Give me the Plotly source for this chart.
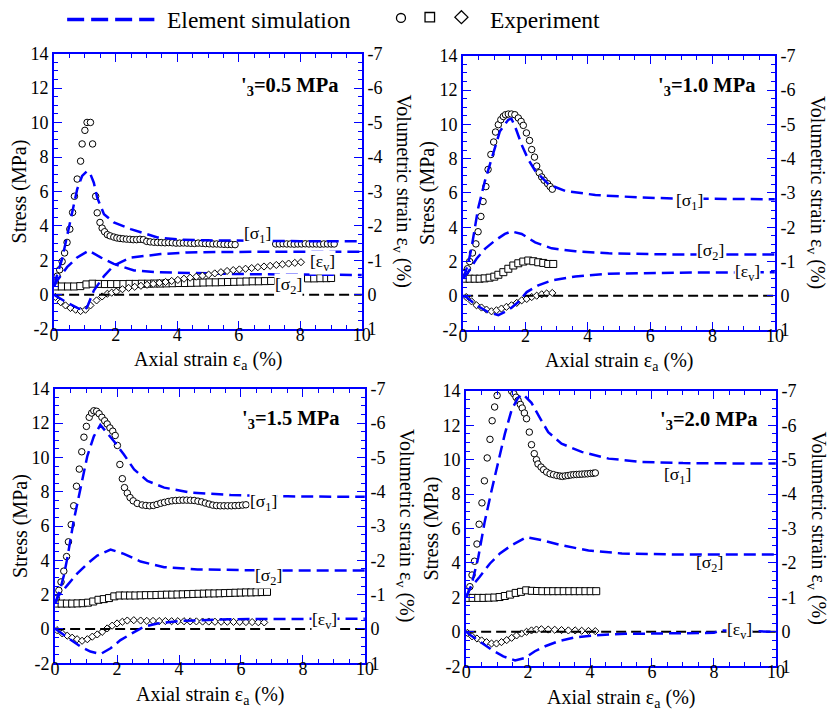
import plotly.graph_objects as go

# ---------------- data ----------------
# Axial strain (%), stress (MPa), volumetric strain (%) for four confining pressures.
panel_titles = ["0.5", "1.0", "1.5", "2.0"]

# sigma'3 = 0.5 MPa : experiment
ea_s1_05 = [0.04, 0.10, 0.18, 0.26, 0.34, 0.42, 0.51, 0.60, 0.66, 0.75, 0.86, 0.91, 1.00, 1.07, 1.18, 1.25, 1.35, 1.40,
            1.49, 1.56, 1.64, 1.73, 1.82, 1.94, 2.04, 2.14, 2.24, 2.35, 2.46, 2.57, 2.68, 2.79, 2.90, 3.01, 3.12, 3.24,
            3.36, 3.48, 3.60, 3.72, 3.84, 3.96, 4.08, 4.20, 4.32, 4.44, 4.56, 4.68, 4.80, 4.92, 5.04, 5.16, 5.28, 5.40,
            5.52, 5.64, 5.76, 5.88,
            7.20, 7.32, 7.44, 7.56, 7.68, 7.80, 7.92, 8.04, 8.16, 8.28, 8.40, 8.52, 8.64, 8.76, 8.88, 9.00, 9.10]
s1_05 = [0.73, 1.08, 1.45, 1.93, 2.43, 3.04, 3.81, 4.78, 5.72, 6.72, 7.76, 8.76, 9.55, 10.01, 10.01, 8.76, 5.72, 4.76,
         4.20, 3.87, 3.66, 3.49, 3.42, 3.35, 3.30, 3.27, 3.25, 3.23, 3.22, 3.20, 3.20, 3.22, 3.20, 3.10, 3.07, 3.05,
         3.04, 3.03, 3.02, 3.03, 3.02, 3.00, 3.00, 3.01, 3.00, 2.99, 2.98, 3.00, 2.99, 2.97, 2.96, 2.95, 2.95, 2.94,
         2.93, 2.92, 2.92, 2.91,
         2.95, 2.95, 2.96, 2.95, 2.95, 2.94, 2.95, 2.95, 2.96, 2.95, 2.95, 2.95, 2.94, 2.95, 2.95, 2.95, 2.95]
ea_s2_05 = [0.05, 0.25, 0.45, 0.65, 0.85, 1.05, 1.25, 1.45, 1.65, 1.85, 2.05, 2.25, 2.45, 2.65, 2.85, 3.05, 3.25, 3.45,
            3.65, 3.85, 4.05, 4.25, 4.45, 4.65, 4.85, 5.05, 5.25, 5.45, 5.65, 5.85, 6.05, 6.25, 6.45, 6.65, 6.85, 7.05,
            8.25, 8.45, 8.65, 8.85, 9.00]
s2_05 = [0.48, 0.48, 0.48, 0.48, 0.50, 0.60, 0.64, 0.63, 0.62, 0.62, 0.62, 0.62, 0.63, 0.63, 0.64, 0.64, 0.65, 0.65,
         0.66, 0.67, 0.68, 0.68, 0.69, 0.70, 0.71, 0.72, 0.72, 0.73, 0.74, 0.75, 0.76, 0.77, 0.78, 0.78, 0.79, 0.80,
         0.95, 0.95, 0.96, 0.96, 0.97]
ea_ev_05 = [0.04, 0.21, 0.37, 0.53, 0.70, 0.86, 1.02, 1.18, 1.38, 1.56, 1.73, 1.87,
            2.02, 2.22, 2.42, 2.62, 2.82, 3.02, 3.22, 3.42, 3.62, 3.82, 4.02, 4.22, 4.42, 4.62, 4.82, 5.02, 5.22, 5.42,
            5.62, 5.82, 6.02, 6.22, 6.42, 6.62, 6.82, 7.02, 7.22, 7.42, 7.62, 7.82, 8.02]
ev_05 = [0.065, 0.215, 0.31, 0.385, 0.435, 0.475, 0.435, 0.31, 0.165, 0.05, -0.03, -0.06,
         -0.09, -0.16, -0.20, -0.23, -0.26, -0.29, -0.315, -0.345, -0.37, -0.40, -0.43, -0.465, -0.495, -0.525, -0.555,
         -0.585, -0.62, -0.655, -0.69, -0.715, -0.735, -0.755, -0.775, -0.80, -0.82, -0.84, -0.865, -0.885, -0.905,
         -0.925, -0.945]
# sigma'3 = 0.5 MPa : element simulation
sim_ea_s1_05 = [0, 0.04, 0.26, 0.48, 0.59, 0.75, 0.91, 1.07, 1.18, 1.29, 1.40, 1.62, 1.94, 2.49, 3.36, 4.11, 5.0, 6.0, 8.0, 10.0]
sim_s1_05 = [0.5, 0.83, 2.08, 3.91, 4.87, 6.13, 6.9, 7.18, 7.0, 6.51, 5.64, 4.68, 4.2, 3.81, 3.33, 3.2, 3.16, 3.13, 3.11, 3.1]
sim_ea_s2_05 = [0, 0.1, 0.42, 0.75, 1.13, 1.51, 1.94, 2.6, 3.36, 4.5, 6.0, 8.0, 10.0]
sim_s2_05 = [0.5, 0.83, 1.6, 2.17, 2.56, 2.17, 1.79, 1.41, 1.31, 1.25, 1.2, 1.17, 1.15]
sim_ea_ev_05 = [0, 0.4, 0.8, 1.0, 1.1, 1.29, 1.62, 1.94, 2.49, 3.46, 4.33, 6.0, 10.0]
sim_ev_05 = [0, 0.22, 0.4, 0.45, 0.3, -0.12, -0.54, -0.85, -1.08, -1.18, -1.23, -1.245, -1.25]

# sigma'3 = 1.0 MPa : experiment
ea_s1_10 = [0.03, 0.08, 0.14, 0.21, 0.30, 0.41, 0.48, 0.57, 0.64, 0.73, 0.80, 0.89, 0.98, 1.04, 1.13, 1.21, 1.29, 1.36,
            1.45, 1.55, 1.66, 1.77, 1.86, 1.93, 2.03, 2.13, 2.20, 2.29, 2.36, 2.44, 2.52, 2.60, 2.71, 2.79, 2.86]
s1_10 = [1.25, 1.4, 1.58, 2.0, 2.5, 3.03, 3.74, 4.63, 5.5, 6.37, 7.37, 8.24, 8.97, 9.55, 9.98, 10.27, 10.46, 10.56,
         10.6, 10.6, 10.56, 10.37, 10.17, 9.94, 9.5, 9.06, 8.53, 8.09, 7.57, 7.18, 6.93, 6.74, 6.54, 6.37, 6.22]
ea_s2_10 = [0.05, 0.21, 0.37, 0.53, 0.69, 0.85, 1.00, 1.13, 1.29, 1.45, 1.61, 1.77, 1.93, 2.09, 2.25, 2.41, 2.57, 2.73, 2.89]
s2_10 = [1.0, 1.0, 1.0, 1.0, 1.02, 1.06, 1.12, 1.23, 1.38, 1.58, 1.77, 1.9, 2.0, 2.06, 2.02, 1.96, 1.92, 1.86, 1.86]
ea_ev_10 = [0.1, 0.27, 0.43, 0.59, 0.75, 0.91, 1.07, 1.23, 1.39, 1.55, 1.72, 1.88, 2.04, 2.2, 2.36, 2.52, 2.68, 2.86]
ev_10 = [0.035, 0.16, 0.275, 0.34, 0.4, 0.45, 0.42, 0.37, 0.32, 0.275, 0.205, 0.13, 0.09, 0.035, -0.005, -0.045, -0.07, -0.085]
# sigma'3 = 1.0 MPa : element simulation
sim_ea_s1_10 = [0, 0.15, 0.27, 0.38, 0.48, 0.7, 0.97, 1.18, 1.45, 1.55, 1.68, 1.88, 2.09, 2.31, 2.74, 3.27, 4.24, 5.74, 7.0, 10.0]
sim_s1_10 = [1.0, 1.8, 2.8, 3.9, 5.1, 6.7, 8.4, 9.6, 10.27, 10.33, 9.8, 8.8, 7.95, 7.3, 6.5, 6.12, 5.88, 5.73, 5.67, 5.63]
sim_ea_s2_10 = [0, 0.16, 0.43, 0.7, 1.02, 1.34, 1.55, 1.88, 2.31, 2.84, 3.6, 4.67, 6.81, 10.0]
sim_s2_10 = [1.0, 1.38, 2.16, 2.74, 3.22, 3.61, 3.76, 3.61, 3.12, 2.77, 2.6, 2.48, 2.41, 2.41]
sim_ea_ev_10 = [0, 0.1, 0.43, 0.8, 1.13, 1.45, 1.77, 2.04, 2.41, 2.84, 3.6, 4.67, 6.81, 10.0]
sim_ev_10 = [0, 0.035, 0.275, 0.47, 0.565, 0.42, 0.18, -0.11, -0.305, -0.45, -0.565, -0.645, -0.675, -0.69]

# sigma'3 = 1.5 MPa : experiment
ea_s1_15 = [0.04, 0.12, 0.19, 0.28, 0.37, 0.43, 0.52, 0.60, 0.69, 0.78, 0.86, 0.93, 1.01, 1.10, 1.18, 1.25, 1.34, 1.42,
            1.51, 1.60, 1.68, 1.77, 1.86, 1.94, 2.01, 2.09, 2.17, 2.24, 2.33, 2.42, 2.52, 2.65, 2.81, 2.93, 3.05, 3.17,
            3.29, 3.41, 3.53, 3.65, 3.77, 3.89, 4.01, 4.13, 4.25, 4.37, 4.49, 4.61, 4.73, 4.85, 4.97, 5.09, 5.21, 5.33,
            5.45, 5.57, 5.69, 5.81, 5.93, 6.05, 6.16]
s1_15 = [1.77, 2.25, 2.74, 3.37, 4.22, 5.08, 6.08, 7.18, 8.32, 9.32, 10.33, 11.18, 11.81, 12.34, 12.59, 12.72, 12.69, 12.55,
         12.34, 12.14, 11.95, 11.72, 11.53, 11.28, 10.7, 9.59, 8.76, 8.24, 7.92, 7.66, 7.47, 7.32, 7.23, 7.2, 7.18, 7.2,
         7.26, 7.33, 7.38, 7.43, 7.47, 7.49, 7.5, 7.51, 7.51, 7.5, 7.49, 7.45, 7.41, 7.34, 7.28, 7.22, 7.19, 7.18,
         7.18, 7.18, 7.18, 7.19, 7.2, 7.22, 7.24]
ea_s2_15 = [0.04, 0.21, 0.38, 0.55, 0.72, 0.89, 1.06, 1.23, 1.40, 1.57, 1.74, 1.91, 2.08, 2.25, 2.42, 2.59, 2.76, 2.93,
            3.10, 3.27, 3.44, 3.61, 3.78, 3.95, 4.12, 4.29, 4.46, 4.63, 4.80, 4.97, 5.14, 5.31, 5.48, 5.65, 5.82, 5.99,
            6.16, 6.33, 6.50, 6.67, 6.84]
s2_15 = [1.48, 1.48, 1.48, 1.48, 1.49, 1.5, 1.53, 1.6, 1.7, 1.74, 1.8, 1.9, 1.95, 1.95, 1.95, 1.95, 1.96, 1.97,
         1.97, 1.98, 1.99, 2.0, 2.0, 2.01, 2.02, 2.03, 2.04, 2.05, 2.06, 2.07, 2.07, 2.08, 2.09, 2.1, 2.11, 2.12,
         2.13, 2.13, 2.14, 2.15, 2.16]
ea_ev_15 = [0.06, 0.23, 0.39, 0.55, 0.71, 0.87, 1.04, 1.2, 1.36, 1.52, 1.68, 1.84, 2.0, 2.17, 2.33, 2.54, 2.76, 2.96,
            3.16, 3.36, 3.56, 3.76, 3.96, 4.16, 4.36, 4.56, 4.76, 4.96, 5.16, 5.36, 5.56, 5.76, 5.96, 6.16, 6.36, 6.56, 6.75]
ev_15 = [0.035, 0.13, 0.195, 0.255, 0.3, 0.345, 0.3, 0.225, 0.16, 0.085, -0.015, -0.095, -0.16, -0.21, -0.245, -0.255,
         -0.245, -0.235, -0.235, -0.23, -0.23, -0.225, -0.225, -0.225, -0.22, -0.22, -0.215, -0.215, -0.21, -0.21,
         -0.21, -0.205, -0.205, -0.2, -0.2, -0.195, -0.19]
# sigma'3 = 1.5 MPa : element simulation
sim_ea_s1_15 = [0, 0.17, 0.28, 0.39, 0.6, 0.82, 1.04, 1.25, 1.46, 1.9, 2.22, 2.55, 2.98, 3.52, 4.38, 5.67, 7.5, 10.0]
sim_s1_15 = [1.5, 2.35, 3.1, 4.1, 6.31, 8.24, 10.08, 11.23, 11.9, 10.94, 10.17, 9.3, 8.63, 8.24, 7.95, 7.81, 7.73, 7.7]
sim_ea_s2_15 = [0, 0.12, 0.39, 0.71, 1.04, 1.36, 1.79, 2.22, 2.76, 3.52, 4.6, 6.75, 10.0]
sim_s2_15 = [1.5, 1.96, 2.54, 3.22, 3.8, 4.28, 4.63, 4.38, 3.93, 3.6, 3.47, 3.41, 3.41]
sim_ea_ev_15 = [0, 0.12, 0.44, 0.82, 1.14, 1.47, 1.79, 2.11, 2.44, 2.87, 3.3, 4.06, 5.67, 10.0]
sim_ev_15 = [0, 0.065, 0.275, 0.515, 0.66, 0.73, 0.565, 0.325, 0.15, -0.065, -0.16, -0.235, -0.285, -0.3]

# sigma'3 = 2.0 MPa : experiment
ea_s1_20 = [0.12, 0.19, 0.27, 0.35, 0.42, 0.51, 0.59, 0.68, 0.77, 0.84, 0.92, 1.00, 1.47, 1.54, 1.61, 1.68, 1.75, 1.81,
            1.88, 1.95, 2.04, 2.11, 2.20, 2.27, 2.32, 2.42, 2.50, 2.60, 2.71, 2.82, 2.93, 3.03, 3.11, 3.20, 3.29, 3.38,
            3.47, 3.56, 3.65, 3.74, 3.83, 3.92, 4.01, 4.10, 4.17]
s1_20 = [2.62, 3.3, 4.1, 5.1, 6.25, 7.49, 8.77, 10.1, 11.18, 12.26, 13.06, 13.73, 13.98, 13.83, 13.63, 13.44, 13.21, 13.0,
         12.71, 12.38, 11.6, 10.87, 10.35, 10.0, 9.75, 9.57, 9.42, 9.28, 9.18, 9.13, 9.08, 9.05, 9.03, 9.06, 9.08, 9.11,
         9.13, 9.14, 9.15, 9.16, 9.17, 9.18, 9.2, 9.21, 9.23]
ea_s2_20 = [0.04, 0.21, 0.39, 0.56, 0.73, 0.91, 1.08, 1.25, 1.42, 1.60, 1.77, 1.94, 2.12, 2.29, 2.46, 2.64, 2.81, 2.98,
            3.15, 3.33, 3.50, 3.67, 3.85, 4.02, 4.20]
s2_20 = [1.97, 1.97, 1.97, 1.97, 1.98, 1.99, 2.02, 2.08, 2.16, 2.26, 2.32, 2.41, 2.38, 2.37, 2.36, 2.36, 2.36, 2.36,
         2.36, 2.36, 2.36, 2.36, 2.36, 2.36, 2.36]
ea_ev_20 = [0.04, 0.19, 0.35, 0.5, 0.66, 0.82, 0.98, 1.14, 1.31, 1.47, 1.63, 1.79, 1.95, 2.11, 2.27, 2.43, 2.65, 2.86,
            3.08, 3.3, 3.52, 3.73, 3.95, 4.17]
ev_20 = [0.03, 0.13, 0.195, 0.25, 0.3, 0.34, 0.34, 0.3, 0.24, 0.175, 0.105, 0.05, 0.0, -0.04, -0.065, -0.075, -0.065,
         -0.06, -0.05, -0.04, -0.04, -0.03, -0.025, -0.02]
# sigma'3 = 2.0 MPa : element simulation
sim_ea_s1_20 = [0, 0.17, 0.39, 0.6, 0.82, 1.04, 1.25, 1.47, 1.68, 1.84, 2.11, 2.39, 2.65, 3.08, 3.73, 4.6, 5.67, 7.0, 10.0]
sim_s1_20 = [2.0, 2.7, 4.3, 6.4, 8.2, 9.9, 11.5, 12.9, 13.6, 13.8, 13.3, 12.4, 11.6, 10.93, 10.45, 10.06, 9.87, 9.8, 9.77]
sim_ea_s2_20 = [0, 0.12, 0.44, 0.77, 1.09, 1.47, 1.95, 2.44, 3.08, 3.95, 5.03, 6.75, 10.0]
sim_s2_20 = [2.0, 2.52, 3.2, 3.97, 4.55, 5.03, 5.5, 5.32, 5.03, 4.72, 4.55, 4.49, 4.49]
sim_ea_ev_20 = [0, 0.12, 0.44, 0.82, 1.2, 1.58, 1.9, 2.22, 2.55, 2.98, 3.52, 4.17, 5.14, 6.75, 8.0, 8.2, 10.0]
sim_ev_20 = [0, 0.085, 0.28, 0.52, 0.715, 0.83, 0.76, 0.565, 0.42, 0.275, 0.16, 0.1, 0.06, 0.05, 0.03, -0.04, 0.0]

# axis ticks
x_ticks = [0, 2, 4, 6, 8, 10]
x_tick_text = ["0", "2", "4", "6", "8", "10"]
stress_ticks = [-2, 0, 2, 4, 6, 8, 10, 12, 14]
stress_tick_text = ["-2", "0", "2", "4", "6", "8", "10", "12", "14"]
ev_ticks = [1, 0, -1, -2, -3, -4, -5, -6, -7]
ev_tick_text = ["1", "0", "-1", "-2", "-3", "-4", "-5", "-6", "-7"]

# ---------------- figure ----------------
W, H = 830, 716
FONT = "Liberation Serif, Times New Roman, serif"
BLUE = "#0000ff"

# the page keeps its default 8px body margin, so the figure fills (W-16) x (H-16)
PAGE_PAD = 8
CW, CH = W - 2 * PAGE_PAD, H - 2 * PAGE_PAD


def fx(px):
    # window pixel -> paper fraction
    return (px - PAGE_PAD) / CW


def fy(py):
    return 1 - (py - PAGE_PAD) / CH


panels = [
    dict(box=(57, 52, 364, 329),
         exp=[(ea_s1_05, s1_05), (ea_s2_05, s2_05), (ea_ev_05, ev_05)],
         sim=[(sim_ea_s1_05, sim_s1_05), (sim_ea_s2_05, sim_s2_05), (sim_ea_ev_05, sim_ev_05)],
         title_pos=(9.28, 12.1),
         labels=[("[σ<sub>1</sub>]", 6.61, 3.49, True), ("[ε<sub>v</sub>]", 8.71, 1.9, True),
                 ("[σ<sub>2</sub>]", 7.62, 0.54, True)]),
    dict(box=(465, 54, 776, 330),
         exp=[(ea_s1_10, s1_10), (ea_s2_10, s2_10), (ea_ev_10, ev_10)],
         sim=[(sim_ea_s1_10, sim_s1_10), (sim_ea_s2_10, sim_s2_10), (sim_ea_ev_10, sim_ev_10)],
         title_pos=(9.43, 12.2),
         labels=[("[σ<sub>1</sub>]", 7.27, 5.51, True), ("[σ<sub>2</sub>]", 7.92, 2.58, True),
                 ("[ε<sub>v</sub>]", 9.11, 1.38, True)]),
    dict(box=(58, 389, 367, 665),
         exp=[(ea_s1_15, s1_15), (ea_s2_15, s2_15), (ea_ev_15, ev_15)],
         sim=[(sim_ea_s1_15, sim_s1_15), (sim_ea_s2_15, sim_s2_15), (sim_ea_ev_15, sim_ev_15)],
         title_pos=(9.22, 12.2),
         labels=[("[σ<sub>1</sub>]", 6.73, 7.39, True), ("[σ<sub>2</sub>]", 6.89, 3.04, True),
                 ("[ε<sub>v</sub>]", 8.71, 0.49, True)]),
    dict(box=(468, 391, 777, 668),
         exp=[(ea_s1_20, s1_20), (ea_s2_20, s2_20), (ea_ev_20, ev_20)],
         sim=[(sim_ea_s1_20, sim_s1_20), (sim_ea_s2_20, sim_s2_20), (sim_ea_ev_20, sim_ev_20)],
         title_pos=(9.45, 12.3),
         labels=[("[σ<sub>1</sub>]", 6.83, 9.1, False), ("[σ<sub>2</sub>]", 7.86, 3.95, False),
                 ("[ε<sub>v</sub>]", 8.83, 0.05, True)]),
]

fig = go.Figure()
layout = dict(width=W, height=H, margin=dict(l=0, r=0, t=0, b=0),
              paper_bgcolor="white", plot_bgcolor="white", showlegend=False,
              font=dict(family=FONT, color="black"))
annotations = []
shapes = []

marker_styles = [
    dict(symbol="circle", size=6.5, color="white", line=dict(color="black", width=1)),
    dict(symbol="square", size=7, color="white", line=dict(color="black", width=1)),
    dict(symbol="diamond", size=5.5, color="white", line=dict(color="black", width=1)),
]
tick_font = dict(family=FONT, size=18, color="black")

for i, pn in enumerate(panels):
    k = i + 1
    xa = "x" if k == 1 else f"x{k}"
    ya = "y" if k == 1 else f"y{k}"
    yr = f"y{k + 4}"
    x0, y0, x1, y1 = pn["box"]

    # experiment markers: sigma1, sigma2 on stress axis, eps_v on volumetric-strain axis
    for j, (ex, ey) in enumerate(pn["exp"]):
        fig.add_trace(go.Scatter(x=ex, y=ey, mode="markers", marker=marker_styles[j],
                                 xaxis=xa, yaxis=(yr if j == 2 else ya), hoverinfo="skip"))
    # zero volumetric-strain reference
    fig.add_trace(go.Scatter(x=[0, 10], y=[0, 0], mode="lines",
                             line=dict(color="black", width=2, dash="10px,5px"),
                             xaxis=xa, yaxis=yr, hoverinfo="skip"))
    # simulation curves
    for j, (sx, sy) in enumerate(pn["sim"]):
        fig.add_trace(go.Scatter(x=sx, y=sy, mode="lines",
                                 line=dict(color=BLUE, width=2.5, dash="12px,6px"),
                                 xaxis=xa, yaxis=(yr if j == 2 else ya), hoverinfo="skip"))

    common = dict(showline=True, linecolor=BLUE, linewidth=2, showgrid=False, zeroline=False,
                  ticks="inside", tickcolor=BLUE, tickwidth=1.3, ticklen=8, tickfont=tick_font)
    layout["xaxis" if k == 1 else f"xaxis{k}"] = dict(
        domain=[fx(x0), fx(x1)], range=[0, 10], anchor=ya, mirror="ticks",
        tickmode="array", tickvals=x_ticks, ticktext=x_tick_text, ticklabelstandoff=-12,
        minor=dict(ticks="inside", ticklen=4, tickwidth=1.2, tickcolor=BLUE, tickmode="linear",
                   tick0=0, dtick=0.5, showgrid=False),
        **common)
    layout["yaxis" if k == 1 else f"yaxis{k}"] = dict(
        domain=[fy(y1), fy(y0)], range=[-2, 14], anchor=xa,
        tickmode="array", tickvals=stress_ticks, ticktext=stress_tick_text,
        minor=dict(ticks="inside", ticklen=4, tickwidth=1.2, tickcolor=BLUE, tickmode="linear",
                   tick0=0, dtick=0.5, showgrid=False),
        **common)
    layout[f"yaxis{k + 4}"] = dict(
        overlaying=ya, anchor=xa, side="right", range=[1, -7],
        tickmode="array", tickvals=ev_ticks, ticktext=ev_tick_text,
        minor=dict(ticks="inside", ticklen=4, tickwidth=1.2, tickcolor=BLUE, tickmode="linear",
                   tick0=0, dtick=0.25, showgrid=False),
        **common)

    # panel heading
    tx, ty = pn["title_pos"]
    annotations.append(dict(text=f"<b>'<sub>3</sub>={panel_titles[i]} MPa</b>", x=tx, y=ty, xref=xa, yref=ya,
                            xanchor="right", yanchor="middle", showarrow=False,
                            font=dict(family=FONT, size=20.5, color="black")))
    # curve labels
    for text, lx, ly, bg in pn["labels"]:
        ann = dict(text=text, x=lx, y=ly, xref=xa, yref=ya, xanchor="center", yanchor="middle",
                   showarrow=False, font=dict(family=FONT, size=17.5, color="black"), borderpad=0)
        if bg:
            ann["bgcolor"] = "white"
        annotations.append(ann)

    # axis titles
    cx = (x0 + x1) / 2
    cy = (y0 + y1) / 2
    annotations.append(dict(text="Axial strain ε<sub>a</sub> (%)", x=fx(cx), y=fy(y1 + 32),
                            xref="paper", yref="paper", xanchor="center", yanchor="middle",
                            showarrow=False, font=dict(family=FONT, size=20, color="black")))
    annotations.append(dict(text="Stress (MPa)", x=fx(x0 - 35), y=fy(cy), xref="paper", yref="paper",
                            xanchor="center", yanchor="middle", textangle=-90, showarrow=False,
                            font=dict(family=FONT, size=20, color="black")))
    annotations.append(dict(text="Volumetric strain ε<sub>v</sub> (%)", x=fx(x1 + 41), y=fy(cy),
                            xref="paper", yref="paper", xanchor="center", yanchor="middle", textangle=90,
                            showarrow=False, font=dict(family=FONT, size=20, color="black")))

# ---- key at the top ----
shapes.append(dict(type="line", xref="paper", yref="paper", x0=fx(70), x1=fx(157), y0=fy(17.5), y1=fy(17.5),
                   line=dict(color=BLUE, width=3.5, dash="17px,7px")))
annotations.append(dict(text="Element simulation", x=fx(168), y=fy(18), xref="paper", yref="paper",
                        xanchor="left", yanchor="middle", showarrow=False,
                        font=dict(family=FONT, size=23.5, color="black")))
shapes.append(dict(type="circle", xref="paper", yref="paper", x0=fx(398.5), x1=fx(407.5), y0=fy(20.5), y1=fy(11.5),
                   line=dict(color="black", width=1.3)))
shapes.append(dict(type="rect", xref="paper", yref="paper", x0=fx(427), x1=fx(436.5), y0=fy(20), y1=fy(10.5),
                   line=dict(color="black", width=1.3)))
dcx, dcy, dr = 463.3, 15.2, 6.5
shapes.append(dict(type="path", xref="paper", yref="paper",
                   path=(f"M {fx(dcx)},{fy(dcy - dr)} L {fx(dcx + dr)},{fy(dcy)} "
                         f"L {fx(dcx)},{fy(dcy + dr)} L {fx(dcx - dr)},{fy(dcy)} Z"),
                   line=dict(color="black", width=1.3)))
annotations.append(dict(text="Experiment", x=fx(490), y=fy(18), xref="paper", yref="paper",
                        xanchor="left", yanchor="middle", showarrow=False,
                        font=dict(family=FONT, size=23.5, color="black")))

layout["annotations"] = annotations
layout["shapes"] = shapes
fig.update_layout(**layout)

fig.write_html("out.html")
